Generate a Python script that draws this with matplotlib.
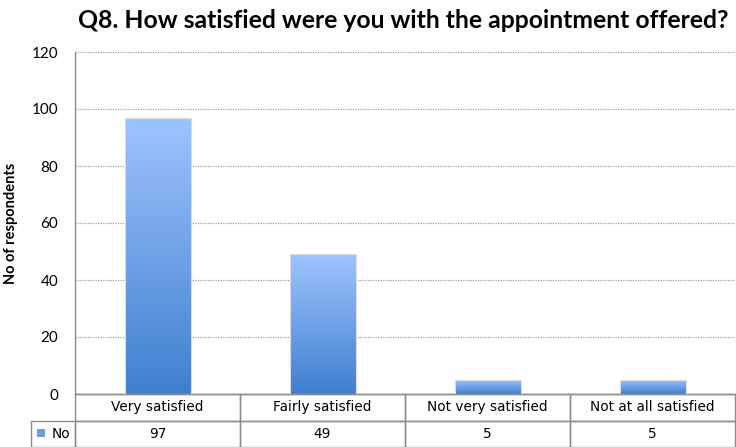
import numpy as np
import matplotlib
matplotlib.use("Agg")
import matplotlib.pyplot as plt
from matplotlib.colors import LinearSegmentedColormap
from matplotlib.patches import Rectangle
from matplotlib.table import Table

title = "Q8. How satisfied were you with the appointment offered?"
categories = ["Very satisfied", "Fairly satisfied", "Not very satisfied", "Not at all satisfied"]
counts = [97, 49, 5, 5]
series_name = "No"
y_ticks = [0, 20, 40, 60, 80, 100, 120]

edge_grey = "#8c8c8c"
bar_cmap = LinearSegmentedColormap.from_list("bar_blue", ["#3f7fd0", "#9ec4ff"])

fig = plt.figure(figsize=(7.36, 4.47), dpi=100)
ax = fig.add_axes([75 / 736, 1 - 394 / 447, 660 / 736, 342 / 447])

x = np.arange(len(categories))
ax.set_xlim(-0.5, len(categories) - 0.5)
ax.set_ylim(0, 120)

# bars with a vertical light-to-dark gradient
bars = ax.bar(x, counts, width=0.4, color="none", edgecolor="#dcdcdc", linewidth=0.8, zorder=3)
grad = np.linspace(0, 1, 256).reshape(-1, 1)
for b in bars:
    x0, y0 = b.get_x(), b.get_y()
    w, h = b.get_width(), b.get_height()
    im = ax.imshow(grad, cmap=bar_cmap, origin="lower", aspect="auto",
                   extent=[x0, x0 + w, y0, y0 + h], zorder=2)
    im.set_clip_path(b)

# dotted gridlines
ax.set_yticks(y_ticks)
ax.yaxis.grid(True, linestyle=(0, (1, 1)), color="#a0a0a0", linewidth=0.9)
ax.set_axisbelow(True)
for s in ["top", "right"]:
    ax.spines[s].set_visible(False)
for s in ["left", "bottom"]:
    ax.spines[s].set_color(edge_grey)
    ax.spines[s].set_linewidth(1.0)
ax.tick_params(axis="y", length=0, pad=12, labelsize=11)
ax.tick_params(axis="x", length=0, labelbottom=False)
for lab in ax.get_yticklabels():
    lab.set_family("Lato")

ax.set_ylabel("No of respondents", fontsize=10.5, fontweight="bold", family="Lato")
ax.yaxis.set_label_coords(-57 / 660, 0.5)
fig.text(403 / 736, 1 - 21 / 447, title, ha="center", va="center",
         fontsize=17.8, fontweight="bold", family="Lato")

# data table under the axis: header row of categories, one row of counts
label_w = 44 / 660
row_h = 26.5 / 342
tbl = Table(ax, bbox=[0, -2 * row_h, 1, 2 * row_h])
for c, name in enumerate(categories):
    tbl.add_cell(0, c, width=0.25, height=row_h, text=name, loc="center")
    tbl.add_cell(1, c, width=0.25, height=row_h, text=str(counts[c]), loc="center")
tbl.add_cell(1, -1, width=label_w, height=row_h, text=series_name, loc="right")
tbl.auto_set_font_size(False)
tbl.set_fontsize(9.8)
for (r, c), cell in tbl.get_celld().items():
    cell.set_edgecolor(edge_grey)
    cell.set_linewidth(1.0)
    cell.set_facecolor("none")
ax.add_table(tbl)

# legend key in the row label cell
ax.add_patch(Rectangle((-label_w + 6 / 660, -43 / 342), 8 / 660, 8 / 342,
                       transform=ax.transAxes, clip_on=False,
                       facecolor="#6a9ee6", edgecolor="none", zorder=5))

fig.savefig("out.png", dpi=100)
